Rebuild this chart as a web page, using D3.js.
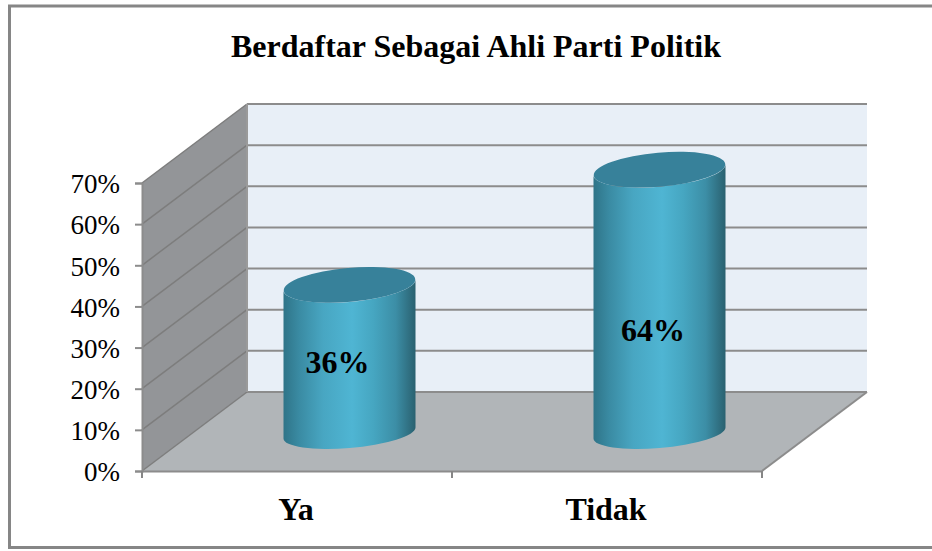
<!DOCTYPE html>
<html>
<head>
<meta charset="utf-8">
<script src="https://cdn.jsdelivr.net/npm/d3@7"></script>
<style>
  html, body { margin: 0; padding: 0; background: #fff; }
  svg { display: block; }
  text { font-family: "Liberation Serif", serif; fill: #000; }
</style>
</head>
<body>
<div id="graph"></div>
<script>
const title = 'Berdaftar Sebagai Ahli Parti Politik'
const categories = ['Ya', 'Tidak']
const values = [36, 64]
const yTicks = [0, 10, 20, 30, 40, 50, 60, 70]

const width = 932
const height = 551
const depth = { x: 105, y: 79 }

const x = d3.scaleBand().domain(categories).range([142, 762])
const y = d3.scaleLinear().domain([0, 70]).range([471, 183])

const svg = d3.select('#graph').append('svg')
  .attr('width', width)
  .attr('height', height)

const defs = svg.append('defs')
const bodyGrad = defs.append('linearGradient').attr('id', 'cyl')
const stops = [
  [0, '#2f7488'], [0.12, '#3a8ba3'], [0.3, '#48a6c2'], [0.52, '#4fb5d3'],
  [0.68, '#46a6c1'], [0.85, '#3c8ea6'], [1, '#2a6170']
]
stops.forEach(s => bodyGrad.append('stop').attr('offset', s[0]).attr('stop-color', s[1]))

// chart frame, the right side is cut off in the picture
svg.append('path')
  .attr('d', `M${width},6H9.5V547.5H${width}`)
  .attr('fill', 'none')
  .attr('stroke', '#868686')
  .attr('stroke-width', 3)

svg.append('text')
  .attr('x', 476).attr('y', 57)
  .attr('text-anchor', 'middle')
  .attr('font-size', 32)
  .attr('font-weight', 'bold')
  .text(title)

const x0 = x.range()[0]
const x1 = x.range()[1]
const y0 = y(0)
const yTop = y(70)

// back wall, side wall, floor
svg.append('path')
  .attr('d', `M${x0 + depth.x},${y0 - depth.y}H${x1 + depth.x}V${yTop - depth.y}H${x0 + depth.x}Z`)
  .attr('fill', '#e8eff7')
svg.append('path')
  .attr('d', `M${x0},${y0}L${x0 + depth.x},${y0 - depth.y}V${yTop - depth.y}L${x0},${yTop}Z`)
  .attr('fill', '#939598')
svg.append('path')
  .attr('d', `M${x0},${y0}L${x0 + depth.x},${y0 - depth.y}H${x1 + depth.x}L${x1},${y0}Z`)
  .attr('fill', '#b1b5b8')

// gridlines on both walls
const grid = svg.append('g').attr('fill', 'none').attr('stroke', '#8c8c8c').attr('stroke-width', 2)
yTicks.forEach(t => {
  grid.append('path')
    .attr('d', `M${x0 + depth.x},${y(t) - depth.y}H${x1 + depth.x}`)
  grid.append('path')
    .attr('d', `M${x0},${y(t)}L${x0 + depth.x},${y(t) - depth.y}`)
    .attr('stroke', '#7d7d7d')
    .attr('stroke-width', 1.5)
})
grid.append('path').attr('d', `M${x0 + depth.x},${y0 - depth.y}V${yTop - depth.y}`).attr('stroke', '#9a9a9a')
grid.append('path').attr('d', `M${x1},${y0}L${x1 + depth.x},${y0 - depth.y}`)

// axes
const yAxis = d3.axisLeft(y).tickValues(yTicks).tickSize(7).tickFormat(d => d + '%')
const gy = svg.append('g').attr('transform', `translate(${x0},0)`).call(yAxis)
gy.selectAll('text').attr('font-size', 27).attr('x', -22).attr('dy', '0.36em').style('text-anchor', 'end')

const gx = svg.append('g').attr('transform', `translate(0,${y0})`)
  .call(d3.axisBottom(x).tickSize(0).tickFormat(d => d))
gx.selectAll('text').attr('font-size', 32).attr('font-weight', 'bold').attr('y', 49).attr('dy', 0).attr('x', -1)
gx.selectAll('line').remove()
const edges = [x0, x0 + x.bandwidth(), x1]
gx.selectAll('line.edge').data(edges).join('line')
  .attr('class', 'edge')
  .attr('x1', d => d).attr('x2', d => d)
  .attr('y1', 0).attr('y2', 7)
  .attr('stroke', '#868686').attr('stroke-width', 2)
svg.selectAll('.domain').attr('stroke', '#8c8c8c').attr('stroke-width', 2)
svg.selectAll('.tick line').attr('stroke', '#8c8c8c').attr('stroke-width', 2)

// cylinders
const rx = 66
const ry = 17
const ryBase = 15
const tilt = -5
const lean = 5.5 // vertical offset of the rim ends caused by the tilt
const shift = { x: 52.5, y: 38 }

const bars = svg.append('g').selectAll('g').data(values).join('g')
bars.append('path')
  .attr('fill', 'url(#cyl)')
  .attr('d', (d, i) => {
    const cx = x(categories[i]) + x.bandwidth() / 2 + shift.x
    const base = y(0) - shift.y
    const top = y(d) - shift.y
    return `M${cx - rx},${top + lean}V${base + lean}` +
      `A${rx},${ryBase} ${tilt} 0 0 ${cx + rx},${base - lean}` +
      `V${top - lean}A${rx},${ry} ${tilt} 0 1 ${cx - rx},${top + lean}Z`
  })
bars.append('ellipse')
  .attr('fill', '#37819a')
  .attr('rx', rx).attr('ry', ry)
  .attr('transform', (d, i) => {
    const cx = x(categories[i]) + x.bandwidth() / 2 + shift.x
    return `translate(${cx},${y(d) - shift.y}) rotate(${tilt})`
  })
bars.append('text')
  .attr('x', (d, i) => x(categories[i]) + x.bandwidth() / 2 + shift.x - (i === 0 ? 12 : 6.5))
  .attr('y', (d, i) => i === 0 ? 373 : 341)
  .attr('text-anchor', 'middle')
  .attr('font-size', 32)
  .attr('font-weight', 'bold')
  .text(d => d + '%')
</script>
</body>
</html>
